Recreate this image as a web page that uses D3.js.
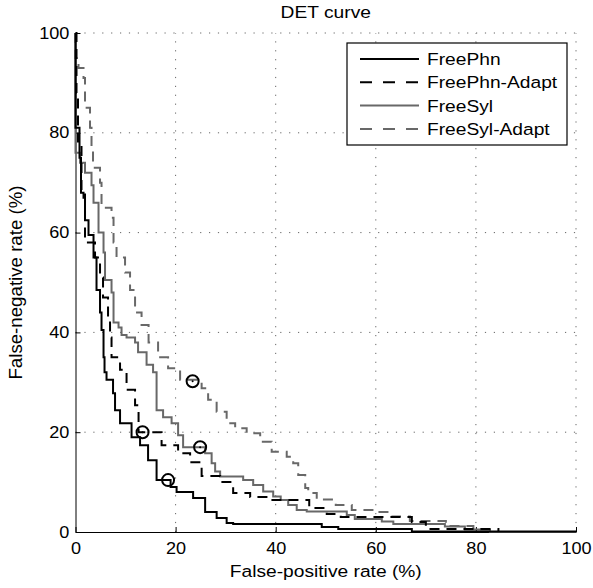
<!DOCTYPE html>
<html>
<head>
<meta charset="utf-8">
<script src="https://cdn.jsdelivr.net/npm/d3@7"></script>
<style>
  body{margin:0;background:#fff;}
  svg{display:block;font-family:"Liberation Sans",Arial,Helvetica,sans-serif;}
  .axis text{font-size:16px;fill:#000;}
  .axis path,.axis line{stroke:#000;stroke-width:1;}
</style>
</head>
<body>
<div id="chart"></div>
<script>
// tick values
const xTicks=[0,20,40,60,80,100];
const yTicks=[0,20,40,60,80,100];
// DET curves, [false-positive %, false-negative %], stair corners (step after)
const freePhn=[[0,100],[0,81],[0.8,75],[1.1,68],[1.6,67],[1.9,62.5],[2.6,59.5],[3.6,55],[4.2,48.5],[4.9,44],[5.2,40.5],[5.6,35],[5.8,32],[6.2,30.5],[7.5,27.8],[7.9,24.4],[8.9,21.8],[11.2,19],[12.9,17.4],[14.5,14.4],[16.2,10.4],[19,9],[20.2,8],[23.5,6.8],[25.9,4],[28.2,2.8],[30.2,1.8],[31.5,1.6],[49.2,1],[52.5,0.6],[67.2,0.1],[100,0]];
const freePhnAdapt=[[0,100],[0.2,88],[0.5,78],[1.2,68],[1.9,58],[3.9,55],[4.9,51],[5.5,47],[6.5,43],[6.9,39],[7.2,35],[8.9,32.5],[10.2,28.5],[11.9,25.4],[12.6,20],[17.2,17.4],[20.5,15.8],[22.9,14],[25.2,11.2],[28.9,10],[31.5,7.8],[34.9,7],[38.9,6.4],[46.7,4.8],[50.2,3.6],[53,3],[67.2,2],[70,0.6],[84.5,0]];
const freeSyl=[[0,100],[0,76],[0.9,74],[1.9,72],[3.2,69.5],[3.6,66],[4.6,60],[5.6,56],[5.9,50.5],[7.2,48],[7.6,42],[8.6,41],[9.2,39.5],[10.2,39],[11.9,38],[12.5,36],[14.2,33.5],[15.5,32],[16.2,24.4],[17.5,23],[19.2,21.8],[20.5,19.4],[21.5,17],[25.9,15.8],[27.2,13.8],[27.9,12.1],[28.9,11.1],[33.5,10.4],[35.5,9.4],[37.5,8.1],[39.5,7.1],[41,6.4],[42.5,5.4],[44.2,4.4],[46.2,4.1],[54.2,3.4],[55.8,2.6],[61.2,2.1],[63.5,1.6],[73.8,1.1],[77.8,0.5],[82.8,0],[100,0]];
const freeSylAdapt=[[0,100],[0,95],[0.6,93],[1.6,91],[1.9,85],[2.9,81],[3.2,77],[3.5,73],[4.9,70],[5.2,65],[7.2,63],[7.6,58],[8.2,55],[9.9,52],[10.9,48.5],[11.9,44],[13.2,41.5],[14.6,38],[16.5,35],[18.5,32.8],[20.9,30.5],[25.2,28.8],[26.5,26.5],[28.2,24.1],[30.2,21.8],[31.9,20.8],[34.2,19.8],[36.9,18.1],[39.2,16.1],[42.2,15.1],[43.5,13.8],[44.5,11.4],[45.9,8.8],[46.5,7.8],[48.2,6.5],[52,5.4],[55.2,4.4],[59.8,4],[63.2,3.1],[66.8,2.2],[74,1.2],[79.5,0.5],[83,0]];
const seriesNames=['FreePhn','FreePhn-Adapt','FreeSyl','FreeSyl-Adapt'];
// operating points marked with circles
const markers=[[18.5,10.4],[13.4,20],[24.9,17],[23.4,30.2]];

const SX=1.13; // the figure's text is a little wider than tall
const W=593,H=588,m={t:33,r:17,b:56,l:75.5};
const w=W-m.l-m.r,h=H-m.t-m.b;
const svg=d3.select('#chart').append('svg').attr('width',W).attr('height',H);
const g=svg.append('g').attr('transform',`translate(${m.l},${m.t})`);
const x=d3.scaleLinear().domain([0,100]).range([0,w]);
const y=d3.scaleLinear().domain([0,100]).range([h,0]);

// dotted grid
const grid=g.append('g').attr('stroke','#666').attr('stroke-width',1).attr('stroke-dasharray','1.2,7.7');
grid.selectAll('.gx').data(xTicks.slice(1)).join('line').attr('x1',d=>x(d)).attr('x2',d=>x(d)).attr('y1',h).attr('y2',0);
grid.selectAll('.gy').data(yTicks.slice(1)).join('line').attr('y1',d=>y(d)).attr('y2',d=>y(d)).attr('x1',0).attr('x2',w);

// axes
g.append('g').attr('class','axis').attr('transform',`translate(0,${h})`)
  .call(d3.axisBottom(x).tickValues(xTicks).tickSizeInner(-5).tickSizeOuter(0).tickPadding(11))
  .call(a=>a.selectAll('text').attr('transform',`scale(${SX},1)`));
g.append('g').attr('class','axis')
  .call(d3.axisLeft(y).tickValues(yTicks).tickSizeInner(-5).tickSizeOuter(0).tickPadding(5.5))
  .call(a=>a.selectAll('text').attr('transform',`scale(${SX},1)`));
g.selectAll('.axis').attr('font-size',null).attr('font-family',null);

// curves
const line=d3.line().x(d=>x(d[0])).y(d=>y(d[1])).curve(d3.curveStepAfter);
const styles=[
  {data:freePhn,col:'#000',dash:null},
  {data:freePhnAdapt,col:'#000',dash:'10,7'},
  {data:freeSyl,col:'#686868',dash:null},
  {data:freeSylAdapt,col:'#686868',dash:'10,7'}
];
[2,3,1,0].forEach(i=>{
  const s=styles[i];
  g.append('path').datum(s.data).attr('fill','none').attr('stroke',s.col).attr('stroke-width',2)
    .attr('stroke-dasharray',s.dash).attr('d',line);
});

// markers
g.selectAll('.mk').data(markers).join('circle').attr('class','mk')
  .attr('cx',d=>x(d[0])).attr('cy',d=>y(d[1])).attr('r',6)
  .attr('fill','none').attr('stroke','#000').attr('stroke-width',2);
g.selectAll('.md').data(markers).join('circle').attr('class','md')
  .attr('cx',d=>x(d[0])).attr('cy',d=>y(d[1])).attr('r',1).attr('fill','#000');

// title and labels
svg.append('text').attr('transform',`translate(${m.l+w/2},18) scale(${SX},1)`).attr('text-anchor','middle').attr('font-size',17).text('DET curve');
svg.append('text').attr('transform',`translate(${m.l+w/2},577) scale(${SX},1)`).attr('text-anchor','middle').attr('font-size',17).text('False-positive rate (%)');
svg.append('text').attr('transform',`translate(22,${m.t+h/2}) rotate(-90) scale(1.1,${SX})`).attr('text-anchor','middle').attr('font-size',17).text('False-negative rate (%)');

// legend
const leg=svg.append('g').attr('transform','translate(347,43)');
leg.append('rect').attr('width',220).attr('height',102).attr('fill','#fff').attr('stroke','#000').attr('stroke-width',1.2);
seriesNames.forEach((name,i)=>{
  const s=styles[i],yy=16+i*23.3;
  leg.append('line').attr('x1',13).attr('x2',72).attr('y1',yy).attr('y2',yy)
    .attr('stroke',s.col).attr('stroke-width',2).attr('stroke-dasharray',s.dash?'12,11':null);
  leg.append('text').attr('transform',`translate(80,${yy}) scale(${SX},1)`).attr('dy','0.35em').attr('font-size',17).text(name);
});
</script>
</body>
</html>
